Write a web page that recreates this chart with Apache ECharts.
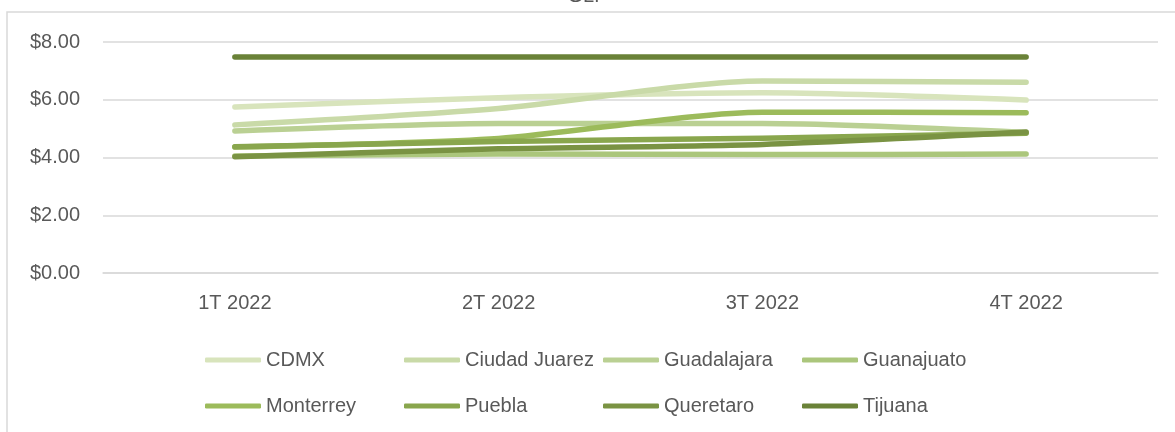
<!DOCTYPE html>
<html>
<head>
<meta charset="utf-8">
<script src="https://cdn.jsdelivr.net/npm/echarts@6/dist/echarts.min.js"></script>
<style>
  html, body { margin: 0; padding: 0; background: #fff; }
  #main { width: 1175px; height: 432px; }
</style>
</head>
<body>
<div id="main"></div>
<script>
// quarters on the x axis
var quarters = ['1T 2022', '2T 2022', '3T 2022', '4T 2022'];
var yTicks = [0, 2, 4, 6, 8];

// price per city
var cdmx = [5.75, 6.07, 6.24, 5.99];
var ciudadJuarez = [5.13, 5.70, 6.65, 6.61];
var guadalajara = [4.92, 5.18, 5.18, 4.87];
var guanajuato = [4.05, 4.12, 4.10, 4.12];
var monterrey = [4.36, 4.66, 5.57, 5.55];
var puebla = [4.37, 4.55, 4.67, 4.84];
var queretaro = [4.03, 4.30, 4.45, 4.88];
var tijuana = [7.48, 7.48, 7.48, 7.48];

var cities = ['CDMX', 'Ciudad Juarez', 'Guadalajara', 'Guanajuato', 'Monterrey', 'Puebla', 'Queretaro', 'Tijuana'];
var values = [cdmx, ciudadJuarez, guadalajara, guanajuato, monterrey, puebla, queretaro, tijuana];
var colors = ['#d8e4bc', '#c9daa8', '#bad093', '#abc67c', '#9cbb5b', '#89a64d', '#7a9343', '#6a8238'];

var font = 'Liberation Sans';
var txt = '#595959';

var series = cities.map(function (name, i) {
    return {
        name: name,
        type: 'line',
        data: values[i],
        smooth: 0.25,
        symbol: 'none',
        lineStyle: { width: 5.5, color: colors[i], cap: 'round', join: 'round' },
        itemStyle: { color: colors[i] }
    };
});

// one legend per entry so the columns sit at fixed places (4 per row)
var legends = cities.map(function (name, i) {
    return {
        data: [name],
        left: 205 + (i % 4) * 199,
        top: i < 4 ? 350 : 396,
        padding: 0,
        itemWidth: 56,
        itemHeight: 5,
        icon: 'roundRect',
        textStyle: { fontFamily: font, fontSize: 20, color: txt }
    };
});

var myChart = echarts.init(document.getElementById('main'));
var option = {
    animation: false,
    color: colors,
    title: {
        text: 'GLP',
        left: 'center',
        top: -19,
        textStyle: { fontFamily: font, fontSize: 20, fontWeight: 'normal', color: txt }
    },
    graphic: [{
        type: 'rect',
        shape: { x: 7, y: 12, width: 1200, height: 500 },
        style: { fill: null, stroke: '#d9d9d9', lineWidth: 1.5 },
        silent: true
    }],
    legend: legends,
    grid: { left: 103, right: 17, top: 42, bottom: 159 },
    xAxis: {
        type: 'category',
        data: quarters,
        boundaryGap: true,
        axisLine: { lineStyle: { color: '#d9d9d9', width: 1.5 } },
        axisTick: { show: false },
        axisLabel: { fontFamily: font, fontSize: 20, color: txt, margin: 20 }
    },
    yAxis: {
        type: 'value',
        min: yTicks[0],
        max: yTicks[yTicks.length - 1],
        interval: 2,
        axisLine: { show: false },
        axisTick: { show: false },
        splitLine: { lineStyle: { color: '#d9d9d9', width: 1.5 } },
        axisLabel: {
            fontFamily: font, fontSize: 20, color: txt, margin: 23,
            formatter: function (v) { return '$' + v.toFixed(2); }
        }
    },
    series: series
};
myChart.setOption(option);
</script>
</body>
</html>
